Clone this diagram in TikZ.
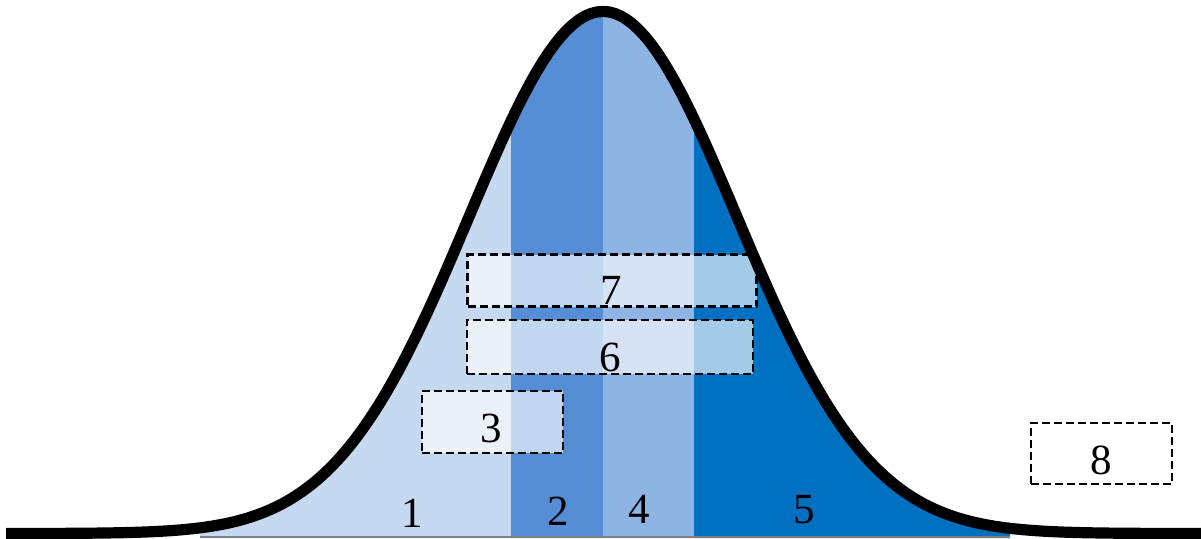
\documentclass[tikz,border=0pt]{standalone}
\usepackage{fontspec}
\setmainfont{Liberation Serif}
\usepackage{xcolor}
\definecolor{cLow}{HTML}{C5D9F0}
\definecolor{cMid}{HTML}{558ED5}
\definecolor{cSoft}{HTML}{8EB4E3}
\definecolor{cHigh}{HTML}{0070C0}
\definecolor{cBase}{HTML}{808080}
\usepackage{tikz}
\usetikzlibrary{positioning}
\tikzset{
  declare function={bell(\x)=533.5-522*exp(-0.5*((\x-603)/134)^2);},
  curve/.style={line width=5.6pt,black,line join=round},
  baseline/.style={line width=1.3pt,draw=cBase},
  zone-box/.style={draw=black,line width=1.1pt,dash pattern=on 4pt off 2pt,
    fill=white,fill opacity=0.64,draw opacity=1,inner sep=0pt},
  zone-label/.style={font=\fontsize{21.5}{24}\selectfont,inner sep=0pt},
}

\begin{document}
\begin{tikzpicture}[x=0.5pt,y=-0.5pt]
  \useasboundingbox (0,0) rectangle (1201,538);
  % bands under the curve
  \fill[cLow] (200,538) -- plot[domain=200:511,samples=80] (\x,{bell(\x)}) -- (511,538) -- cycle;
  \fill[cMid] (511,538) -- plot[domain=511:603,samples=40] (\x,{bell(\x)}) -- (603,538) -- cycle;
  \fill[cSoft] (603,538) -- plot[domain=603:694,samples=40] (\x,{bell(\x)}) -- (694,538) -- cycle;
  \fill[cHigh] (694,538) -- plot[domain=694:1010,samples=80] (\x,{bell(\x)}) -- (1010,538) -- cycle;
  \coordinate (b-left) at (200,536.8);
  \coordinate (b-right) at (1010,536.8);
  \draw[baseline] (b-left) -- (b-right);

  \node[zone-box,minimum width=144.5pt,minimum height=26pt] (box7) at (612,280.5) {};
  \node[zone-box,minimum width=143pt,minimum height=27pt] (box6) at (610,347) {};
  \node[zone-box,minimum width=70.5pt,minimum height=31pt] (box3) at (492.5,422) {};
  \node[zone-box,minimum width=70.5pt,minimum height=30.5pt,fill opacity=0] (box8) at (1101.5,453.5) {};

  \draw[curve] plot[domain=6:1206,samples=200] (\x,{bell(\x)});

  \node[zone-label] (n1) at (412,513) {1};
  \node[zone-label] (n2) at (558,511) {2};
  \node[zone-label] (n4) at (639,509.5) {4};
  \node[zone-label] (n5) at (804,510) {5};
  \node[zone-label] (n7) at (611,290) {7};
  \node[zone-label] (n6) at (610,357) {6};
  \node[zone-label] (n3) at (491,428) {3};
  \node[zone-label] (n8) at (1101,460) {8};
\end{tikzpicture}
\end{document}
